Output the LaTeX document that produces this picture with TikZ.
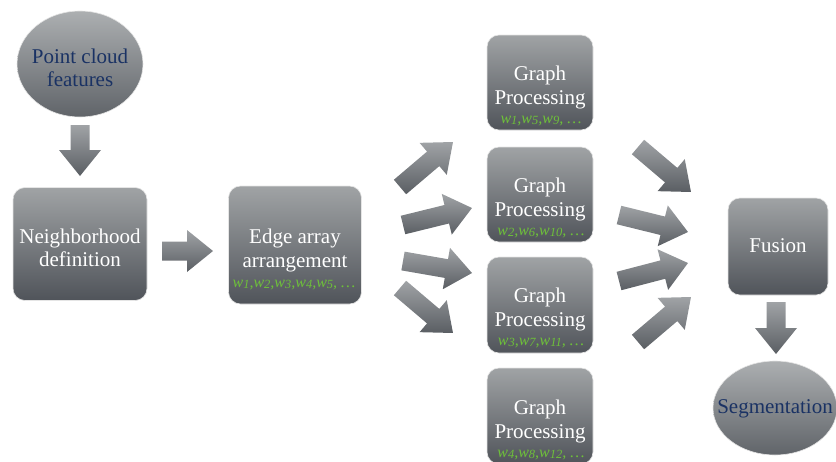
\documentclass[tikz,border=0pt]{standalone}
\usepackage{fontspec}
\setmainfont{Liberation Serif}
\usetikzlibrary{shapes.geometric,calc}

\definecolor{boxtop}{RGB}{160,163,165}
\definecolor{boxbot}{RGB}{80,84,90}
\definecolor{elltop}{RGB}{172,175,177}
\definecolor{ellbot}{RGB}{96,100,105}
\definecolor{navy}{RGB}{26,50,100}
\definecolor{wgreen}{RGB}{110,192,58}
\definecolor{arrtop}{RGB}{160,163,166}
\definecolor{arrbot}{RGB}{90,94,99}

\tikzset{
  stagebox/.style={rectangle, rounded corners=12pt, top color=boxtop, bottom color=boxbot,
    draw=gray!20, line width=0.6pt, inner sep=0pt},
  endell/.style={ellipse, top color=elltop, bottom color=ellbot,
    draw=gray!20, line width=0.6pt, inner sep=0pt},
  title/.style={anchor=base, text=white, inner sep=0pt, font=\fontsize{21}{24}\selectfont},
  elltext/.style={anchor=base, text=navy, inner sep=0pt, font=\fontsize{21}{24}\selectfont},
  wlabel/.style={anchor=base, text=wgreen, inner sep=0pt, font=\fontsize{16}{18}\selectfont\itshape},
  arrowbody/.style={top color=arrtop, bottom color=arrbot, draw=none},
}

% weight symbol w_k with a lowered index
\newcommand\wk[1]{w\raisebox{-1.8pt}{\fontsize{12.5}{13}\selectfont #1}}

% block arrow from coordinate #1 to coordinate #2
\newcommand\blockarrow[2]{%
  \path[arrowbody] let \p1=($(#2)-(#1)$), \n1={atan2(\y1,\x1)}, \n2={veclen(\x1,\y1)} in
    [shift={(#1)}, rotate=\n1]
    (0pt,-9.5pt) -- ({(\n2-26)*1pt},-9.5pt) -- ({(\n2-26)*1pt},-21pt) -- ({\n2*1pt},0pt)
    -- ({(\n2-26)*1pt},21pt) -- ({(\n2-26)*1pt},9.5pt) -- (0pt,9.5pt) -- cycle;}

\begin{document}
\begin{tikzpicture}[x=1pt,y=-1pt]
\useasboundingbox (0,0) rectangle (836,461);

% stages
\node[endell, minimum width=126pt, minimum height=106pt] (pc) at (80,64) {};
\node[elltext] (pct1) at (80,63) {Point cloud};
\node[elltext] (pct2) at (80,86) {features};

\node[stagebox, minimum width=134pt, minimum height=113pt] (nb) at (80,244) {};
\node[title] (nbt1) at (80,243) {Neighborhood};
\node[title] (nbt2) at (80,266) {definition};

\node[stagebox, minimum width=133pt, minimum height=118pt] (ea) at (295,245) {};
\node[title] (eat1) at (295,243) {Edge array};
\node[title] (eat2) at (295,267) {arrangement};
\node[wlabel] (eaw) at (294,287) {\wk{1},\wk{2},\wk{3},\wk{4},\wk{5}, \ldots};

\node[stagebox, minimum width=106pt, minimum height=95pt] (g1) at (540,82.5) {};
\node[title] (g1t1) at (540,80) {Graph};
\node[title] (g1t2) at (540,104) {Processing};
\node[wlabel] (g1w) at (541,123) {\wk{1},\wk{5},\wk{9}, \ldots};

\node[stagebox, minimum width=106pt, minimum height=95pt] (g2) at (540,194.5) {};
\node[title] (g2t1) at (540,192) {Graph};
\node[title] (g2t2) at (540,216) {Processing};
\node[wlabel] (g2w) at (541,235) {\wk{2},\wk{6},\wk{10}, \ldots};

\node[stagebox, minimum width=106pt, minimum height=96pt] (g3) at (540,305) {};
\node[title] (g3t1) at (540,302) {Graph};
\node[title] (g3t2) at (540,326) {Processing};
\node[wlabel] (g3w) at (541,345) {\wk{3},\wk{7},\wk{11}, \ldots};

\node[stagebox, minimum width=106pt, minimum height=96pt] (g4) at (540,416) {};
\node[title] (g4t1) at (540,414) {Graph};
\node[title] (g4t2) at (540,438) {Processing};
\node[wlabel] (g4w) at (541,457) {\wk{4},\wk{8},\wk{12}, \ldots};

\node[stagebox, minimum width=100pt, minimum height=97pt] (fu) at (778,246.5) {};
\node[title] (fut) at (778,252) {Fusion};

\node[endell, minimum width=124pt, minimum height=94pt] (sg) at (775,408) {};
\node[elltext] (sgt) at (775,413) {Segmentation};

% arrow end points
\coordinate (a1s) at (80,125);  \coordinate (a1e) at (80,176);
\coordinate (a2s) at (162,251); \coordinate (a2e) at (213,251);
\coordinate (f1s) at (400,187); \coordinate (f1e) at (453,142);
\coordinate (f2s) at (403,225); \coordinate (f2e) at (472,208);
\coordinate (f3s) at (403,261); \coordinate (f3e) at (472,273);
\coordinate (f4s) at (400,288); \coordinate (f4e) at (453,333);
\coordinate (j1s) at (638,147); \coordinate (j1e) at (691,192);
\coordinate (j2s) at (619,215); \coordinate (j2e) at (688,232);
\coordinate (j3s) at (619,281); \coordinate (j3e) at (688,263);
\coordinate (j4s) at (638,342); \coordinate (j4e) at (691,297);
\coordinate (a3s) at (776,302); \coordinate (a3e) at (776,354);

% block arrows
\blockarrow{a1s}{a1e}
\blockarrow{a2s}{a2e}
\blockarrow{f1s}{f1e}
\blockarrow{f2s}{f2e}
\blockarrow{f3s}{f3e}
\blockarrow{f4s}{f4e}
\blockarrow{j1s}{j1e}
\blockarrow{j2s}{j2e}
\blockarrow{j3s}{j3e}
\blockarrow{j4s}{j4e}
\blockarrow{a3s}{a3e}
\end{tikzpicture}
\end{document}
